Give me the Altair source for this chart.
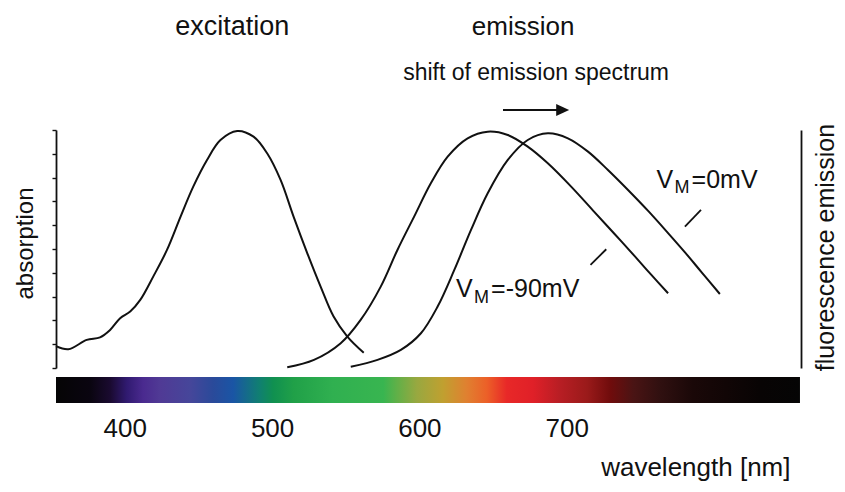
import altair as alt
import pandas as pd

# ---------------- data ----------------
exc_nm = [350, 358.0, 369.9, 378.5, 385.0, 391.5, 398.0, 404.5, 412.9, 421.8, 430.6, 438.8,
          447.7, 456.4, 467.2, 477.8, 486.6, 495.3, 503.7, 512.6, 521.2, 529.6, 538.5, 549.1]
exc_val = [0.092, 0.079, 0.118, 0.129, 0.160, 0.209, 0.237, 0.286, 0.384, 0.496, 0.636, 0.762,
           0.874, 0.958, 0.996, 0.972, 0.902, 0.790, 0.636, 0.482, 0.342, 0.216, 0.132, 0.064]

em90_nm = [499.6, 516.9, 534.2, 547.1, 560.1, 570.9, 581.7, 592.5, 603.4, 616.3, 629.3, 642.3,
           655.2, 668.2, 683.3, 698.4, 711.4, 724.4, 735.2, 746.0]
em90_val = [0.003, 0.034, 0.104, 0.202, 0.342, 0.496, 0.636, 0.776, 0.888, 0.965, 0.993, 0.979,
            0.930, 0.860, 0.762, 0.655, 0.563, 0.470, 0.391, 0.314]

em0_nm = [540.7, 558.0, 573.1, 586.1, 596.9, 607.7, 618.5, 629.3, 642.3, 655.2, 668.2, 681.2,
          694.2, 707.1, 720.1, 733.1, 746.0, 756.8, 767.6, 779.5]
em0_val = [0.005, 0.034, 0.076, 0.146, 0.258, 0.412, 0.580, 0.734, 0.874, 0.958, 0.986, 0.965,
           0.909, 0.832, 0.748, 0.660, 0.567, 0.487, 0.403, 0.311]

x_ticks = [350, 400, 450, 500, 550, 600, 650, 700, 750, 800]
y_ticks = [0, 0.1, 0.2, 0.3, 0.4, 0.5, 0.6, 0.7, 0.8, 0.9, 1.0]

# colour bar (wavelength scale of the colour bar)
label_values = [400, 500, 600, 700]
bar_start = [353.3]
bar_end = [858.4]
bar_offsets = [0.0, 0.046, 0.073, 0.095, 0.117, 0.140, 0.180, 0.211, 0.238, 0.274, 0.292, 0.319,
               0.372, 0.440, 0.458, 0.485, 0.520, 0.552, 0.579, 0.606, 0.641, 0.677, 0.714, 0.745,
               0.776, 0.812, 0.856, 0.946, 1.0]
bar_colors = ["#050505", "#0a0510", "#1a0a30", "#301a70", "#4a2a8f", "#503a95", "#46469a", "#2a4a9a",
              "#1a55a5", "#108070", "#109050", "#20a048", "#30b050", "#38b550", "#60b048", "#98a840",
              "#c0a030", "#e08030", "#ec6028", "#e82828", "#e02028", "#b81e24", "#9a1a1a", "#700c0c",
              "#4a1414", "#301010", "#1a0808", "#080404", "#050505"]

FONT = "Liberation Sans"
INK = "#111111"

curves = pd.DataFrame({
    "series": ["excitation"] * len(exc_nm) + ["em_-90"] * len(em90_nm) + ["em_0"] * len(em0_nm),
    "nm": exc_nm + em90_nm + em0_nm,
    "value": exc_val + em90_val + em0_val,
})

xscale = alt.Scale(domain=[350, 832], nice=False, zero=False)
yscale = alt.Scale(domain=[0, 1], nice=False, zero=False)

x_axis = alt.Axis(orient="bottom", values=x_ticks, labels=False, title=None, tickSize=5,
                  tickWidth=1.6, tickColor=INK, domainWidth=1.8, domainColor=INK, grid=False)

base = alt.Chart(curves)

exc = base.transform_filter(alt.datum.series == "excitation").mark_line(
    interpolate="catmull-rom", color=INK, strokeWidth=2
).encode(
    x=alt.X("nm:Q", scale=xscale, axis=x_axis),
    y=alt.Y("value:Q", scale=yscale, axis=alt.Axis(
        orient="left", values=y_ticks, labels=False, tickSize=4, tickWidth=1.4, tickColor=INK,
        domainWidth=1.8, domainColor=INK, grid=False,
        title="absorption", titleFont=FONT, titleFontSize=24, titleFontWeight="normal",
        titleColor=INK, titleAngle=270, titleX=-24, titleY=113, titleAlign="center",
        titleBaseline="alphabetic")),
)

em = base.transform_filter(alt.datum.series != "excitation").mark_line(
    interpolate="catmull-rom", color=INK, strokeWidth=2
).encode(
    x=alt.X("nm:Q", scale=xscale, axis=x_axis),
    y=alt.Y("value:Q", scale=yscale, axis=alt.Axis(
        orient="right", ticks=False, labels=False, domainWidth=1.8, domainColor=INK, grid=False,
        title="fluorescence emission", titleFont=FONT, titleFontSize=25, titleFontWeight="normal",
        titleColor=INK, titleAngle=270, titleX=32, titleY=117, titleAlign="center",
        titleBaseline="alphabetic")),
    detail="series:N",
)


def text_at(txt, nm, val=None, ypx=None, size=25, align="left"):
    enc = {"x": alt.XDatum(nm, axis=None), "text": alt.Text("t:N")}
    if val is not None:
        enc["y"] = alt.YDatum(val, axis=None)
    else:
        enc["y"] = alt.value(ypx)
    return alt.Chart(pd.DataFrame({"t": [txt]})).mark_text(
        font=FONT, fontSize=size, color=INK, align=align, baseline="alphabetic"
    ).encode(**enc)


def seg(x1, y1, x2, y2):
    return alt.Chart(pd.DataFrame({"k": [0]})).mark_rule(color=INK, strokeWidth=1.8).encode(
        x=alt.XDatum(x1, axis=None), x2=alt.X2Datum(x2),
        y=alt.YDatum(y1, axis=None), y2=alt.Y2Datum(y2))


annotations = [
    text_at("excitation", 464.1, ypx=-95, size=27, align="center"),
    text_at("emission", 652.2, ypx=-95, size=26, align="center"),
    text_at("shift of emission spectrum", 660.6, ypx=-50, size=23, align="center"),
    text_at("V", 738.5, 0.756), text_at("M", 750.1, 0.735, size=18), text_at("=0mV", 761.2, 0.756),
    text_at("V", 608.8, 0.298), text_at("M", 620.4, 0.273, size=18), text_at("=-90mV", 631.5, 0.298),
    seg(767.3, 0.664, 756.9, 0.594),
    seg(706.0, 0.499, 695.8, 0.433),
]

arrow_line = alt.Chart(pd.DataFrame({"k": [0]})).mark_rule(color=INK, strokeWidth=2).encode(
    x=alt.XDatum(639.2, axis=None), x2=alt.X2Datum(674.2), y=alt.value(-20))
arrow_head = alt.Chart(pd.DataFrame({"k": [0]})).mark_point(
    shape="M-1,-0.92L1,0L-1,0.92Z", size=169, filled=True, color=INK, opacity=1, strokeWidth=0
).encode(x=alt.XDatum(677.8, axis=None), y=alt.value(-20))

inner = alt.layer(exc, em, *annotations, arrow_line, arrow_head).resolve_axis(y="independent")

grad = alt.LinearGradient(
    gradient="linear",
    stops=[alt.GradientStop(color=c, offset=o) for o, c in zip(bar_offsets, bar_colors)],
    x1=0, x2=1, y1=0, y2=0,
)

bar = alt.Chart(pd.DataFrame({"start": bar_start, "end": bar_end})).mark_rect(color=grad).encode(
    x=alt.X("start:Q", scale=alt.Scale(domain=[353.3, 859.1], nice=False, zero=False),
            axis=alt.Axis(orient="bottom", values=label_values, domain=False, ticks=False,
                          tickSize=0, labelPadding=47, labelFont=FONT, labelFontSize=26,
                          labelColor=INK, grid=False,
                          title="wavelength [nm]", titleFont=FONT, titleFontSize=26,
                          titleFontWeight="normal", titleColor=INK, titleX=734, titleY=107,
                          titleAlign="right", titleBaseline="alphabetic")),
    x2="end:Q",
    y=alt.value(247),
    y2=alt.value(273),
)

chart = alt.layer(inner, bar).resolve_scale(x="independent").properties(
    width=745, height=238,
    autosize=alt.AutoSizeParams(type="none"),
    padding={"left": 48, "top": 122, "right": 36, "bottom": 116},
    background="white",
).configure_view(stroke=None)

chart.save("out.html", embed_options={"renderer": "svg", "actions": False})
